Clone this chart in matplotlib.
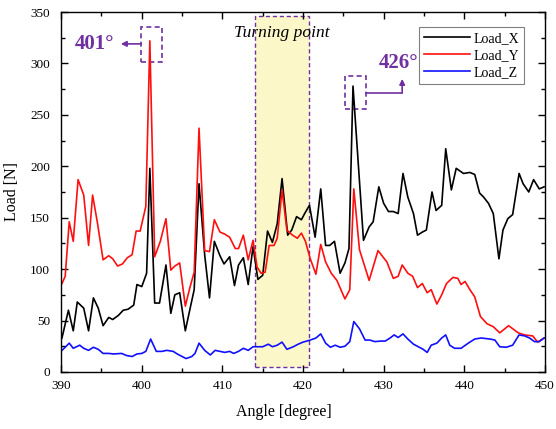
import numpy as np
import matplotlib.pyplot as plt
from matplotlib.patches import Rectangle
from matplotlib.ticker import MultipleLocator

plt.rcParams['font.family'] = ['Liberation Serif', 'DejaVu Serif']

# angle [deg] / load [N] samples for each channel
x_angle = [390.1, 390.9, 391.5, 392.0, 392.8, 393.4, 394.0, 394.6, 395.2, 395.9,
           396.4, 397.1, 397.7, 398.3, 399.0, 399.4, 400.0, 400.6, 401.0, 401.6,
           402.2, 403.0, 403.6, 404.1, 404.7, 405.4, 406.0, 406.5, 407.1, 407.8,
           408.4, 409.0, 409.7, 410.2, 410.9, 411.5, 412.0, 412.6, 413.2, 413.8,
           414.4, 415.0, 415.6, 416.2, 416.8, 417.4, 418.1, 418.6, 419.2, 419.8,
           420.2, 420.8, 421.5, 422.2, 422.8, 423.3, 423.9, 424.6, 425.2, 425.7,
           426.2, 427.5, 428.2, 428.7, 429.4, 430.0, 430.6, 431.2, 431.8, 432.4,
           433.0, 433.7, 434.2, 434.8, 435.3, 436.0, 436.5, 437.2, 437.7, 438.4,
           439.0, 439.9, 440.7, 441.3, 441.9, 442.4, 443.0, 443.6, 444.3, 444.8,
           445.4, 446.0, 446.8, 447.3, 448.0, 448.6, 449.3, 449.9]
load_x = [33, 60, 40, 68, 62, 40, 72, 62, 45, 53,
          51, 55, 60, 61, 65, 85, 83, 96, 198, 67,
          67, 104, 57, 75, 77, 40, 62, 80, 183, 114,
          72, 127, 113, 105, 112, 84, 104, 111, 85, 122,
          90, 94, 137, 126, 144, 188, 133, 138, 151, 148,
          154, 162, 131, 178, 123, 123, 127, 96, 106, 120,
          278, 128, 141, 146, 180, 164, 156, 156, 154, 193,
          170, 154, 133, 136, 138, 175, 157, 162, 217, 177,
          198, 193, 194, 192, 174, 170, 164, 154, 110, 138,
          149, 153, 193, 183, 175, 187, 178, 180]

y_angle = [390.1, 390.5, 391.0, 391.5, 392.1, 392.8, 393.4, 393.9, 394.5, 395.2,
           395.9, 396.4, 397.0, 397.6, 398.2, 398.8, 399.3, 399.8, 400.5, 401.0,
           401.6, 402.3, 403.0, 403.6, 404.1, 404.7, 405.4, 406.0, 406.5, 407.1,
           407.8, 408.4, 409.0, 409.7, 410.3, 410.9, 411.6, 412.0, 412.6, 413.2,
           413.8, 414.3, 414.8, 415.3, 415.8, 416.4, 416.8, 417.4, 418.0, 418.7,
           419.3, 419.8, 420.3, 420.9, 421.6, 422.2, 422.8, 423.5, 424.2, 425.2,
           425.8, 426.3, 427.0, 428.2, 429.3, 430.4, 431.2, 431.8, 432.3, 433.0,
           433.6, 434.2, 434.8, 435.4, 435.9, 436.6, 437.2, 437.8, 438.6, 439.2,
           439.6, 440.1, 440.7, 441.3, 442.0, 442.8, 443.6, 444.4, 445.5, 446.7,
           447.5, 448.5, 449.1, 449.9]
load_y = [86, 93, 146, 127, 187, 172, 123, 172, 145, 109,
          113, 110, 103, 105, 111, 114, 137, 137, 161, 322,
          112, 127, 149, 99, 103, 106, 64, 83, 97, 237,
          118, 117, 148, 136, 134, 131, 120, 120, 133, 109,
          128, 102, 96, 97, 123, 123, 130, 177, 138, 133,
          130, 135, 127, 110, 95, 124, 107, 96, 89, 71,
          80, 178, 119, 89, 118, 107, 91, 93, 104, 96,
          93, 82, 86, 77, 80, 66, 75, 86, 92, 91,
          85, 88, 80, 73, 54, 47, 44, 38, 45, 38,
          36, 35, 29, 33]

z_angle = [390.1, 390.5, 391.0, 391.5, 392.3, 392.8, 393.4, 394.0, 394.6, 395.2,
           395.9, 396.5, 397.5, 398.1, 398.8, 399.4, 400.0, 400.5, 401.1, 401.8,
           402.5, 403.1, 403.9, 404.4, 405.0, 405.5, 406.2, 406.6, 407.1, 407.8,
           408.5, 409.1, 409.7, 410.3, 410.9, 411.4, 412.0, 412.6, 413.2, 413.8,
           414.4, 415.0, 415.7, 416.2, 416.8, 417.4, 418.0, 418.8, 419.4, 420.0,
           420.9, 421.6, 422.2, 422.8, 423.4, 424.0, 424.6, 425.2, 425.8, 426.3,
           427.0, 427.7, 428.3, 428.9, 429.6, 430.2, 430.8, 431.3, 431.8, 432.4,
           433.0, 433.7, 434.3, 434.9, 435.4, 435.9, 436.6, 437.2, 437.7, 438.2,
           438.8, 439.6, 440.5, 441.3, 442.1, 443.2, 443.8, 444.4, 445.2, 446.0,
           446.8, 447.5, 448.1, 448.7, 449.3, 449.9]
load_z = [21, 24, 28, 23, 26, 23, 21, 24, 22, 18,
          18, 17.5, 18, 16, 15, 17.5, 18, 20, 32, 20,
          20, 21, 20, 17.5, 15, 13, 15, 18, 28, 21,
          16.5, 21, 20, 19, 20, 18, 20, 23, 21, 24.5,
          24.5, 24.5, 27, 24.5, 26, 29, 22, 24.5, 27, 29,
          31, 33, 37, 28, 24, 26, 24, 25, 29.5, 49,
          42, 31, 31, 29.5, 30, 30, 33, 36, 33.5, 37,
          32, 27, 24.5, 22, 19, 26, 28, 33, 36, 26,
          23, 23, 28, 32, 33, 32, 31, 24.5, 24, 26,
          36, 35, 33, 29.5, 29.5, 33]

purple = '#7030A0'

fig = plt.figure(figsize=(5.56, 4.29), dpi=100)
ax = fig.add_axes([0.11, 0.133, 0.87, 0.839])

# turning-point band
ax.add_patch(Rectangle((414, 5), 6.8, 341, facecolor='#FBF7C8',
                       edgecolor=purple, linestyle=(0, (3, 2)), linewidth=1.0,
                       zorder=0))
ax.text(417.4, 330, 'Turning point', style='italic', fontsize=12.5,
        ha='center', va='center')

ax.plot(x_angle, load_x, color='black', lw=1.2, label='Load_X')
ax.plot(y_angle, load_y, color='#FF1010', lw=1.2, label='Load_Y')
ax.plot(z_angle, load_z, color='#1010FF', lw=1.2, label='Load_Z')

# peak markers
ax.add_patch(Rectangle((399.9, 301.5), 2.6, 33.5, fill=False,
                       edgecolor=purple, linestyle=(0, (3, 2)), linewidth=1.2))
ax.annotate('', xy=(397.4, 319), xytext=(399.9, 319),
            arrowprops=dict(arrowstyle='-|>', color=purple, lw=1.2,
                            mutation_scale=8, shrinkA=0, shrinkB=0))
ax.text(394.1, 319, '401°', color=purple, fontsize=15, fontweight='bold',
        ha='center', va='center')

ax.add_patch(Rectangle((425.2, 255.3), 2.6, 32.3, fill=False,
                       edgecolor=purple, linestyle=(0, (3, 2)), linewidth=1.2))
ax.plot([427.8, 432.3], [271.4, 271.4], color=purple, lw=1.2)
ax.annotate('', xy=(432.3, 285), xytext=(432.3, 271.4),
            arrowprops=dict(arrowstyle='-|>', color=purple, lw=1.2,
                            mutation_scale=8, shrinkA=0, shrinkB=0))
ax.text(431.9, 300, '426°', color=purple, fontsize=15, fontweight='bold',
        ha='center', va='center', zorder=6)

ax.set_xlim(390, 450)
ax.set_ylim(0, 350)
ax.xaxis.set_major_locator(MultipleLocator(10))
ax.xaxis.set_minor_locator(MultipleLocator(5))
ax.yaxis.set_major_locator(MultipleLocator(50))
ax.yaxis.set_minor_locator(MultipleLocator(25))
ax.tick_params(which='both', direction='in', top=True, right=True,
               labelsize=9.5, width=1.0, pad=6)
ax.tick_params(axis='y', which='both', pad=8)
ax.tick_params(which='major', length=5)
ax.tick_params(which='minor', length=3)
for s in ax.spines.values():
    s.set_linewidth(1.0)

ax.set_xlabel('Angle [degree]', fontsize=11.5)
ax.set_ylabel('Load [N]', fontsize=11.5)
ax.xaxis.set_label_coords(0.46, -0.09)
ax.yaxis.set_label_coords(-0.085, 0.5)

leg = ax.legend(loc='upper left', bbox_to_anchor=(0.74, 0.958),
                borderaxespad=0, fontsize=10, handlelength=3.3,
                fancybox=False, framealpha=1, borderpad=0.35,
                labelspacing=0.3, handletextpad=0.3)
leg.get_frame().set_edgecolor('#808080')
leg.get_frame().set_linewidth(0.8)
leg.set_zorder(5)

fig.savefig('out.png', dpi=100)
